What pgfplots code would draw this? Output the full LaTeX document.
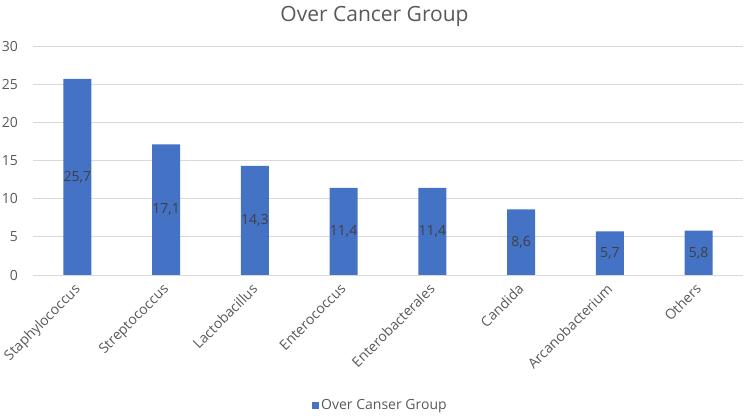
\documentclass[border=0pt]{standalone}
\usepackage{fontspec}
\setmainfont{Open Sans}
\usepackage{pgfplots}
\pgfplotsset{compat=1.18}
\definecolor{barblue}{HTML}{4472C4}
\definecolor{gridgray}{HTML}{D9D9D9}
\definecolor{ticktext}{HTML}{595959}
\definecolor{labeltext}{HTML}{404040}

\begin{document}
\begin{tikzpicture}
\useasboundingbox (0pt,0pt) rectangle (747pt,420pt);
\begin{axis}[
    at={(33pt,145pt)}, anchor=south west,
    scale only axis,
    width=710pt, height=229pt,
    ybar, bar width=28pt,
    xmin=-0.5, xmax=7.5,
    ymin=0, ymax=30,
    ytick={0,5,...,30},
    xtick=data,
    xticklabels={Staphylococcus,Streptococcus,Lactobacillus,Enterococcus,Enterobacterales,Candida,Arcanobacterium,Others},
    /pgf/number format/assume math mode=true,
    axis line style={draw=none},
    major tick length=0pt,
    ymajorgrids, grid style={gridgray, line width=0.8pt},
    tick label style={font=\fontsize{14}{16}\selectfont, text=ticktext},
    yticklabel style={anchor=east, inner sep=0pt, xshift=-15pt},
    xticklabel style={xshift=-4pt, yshift=-6pt, rotate=45, anchor=north east, inner sep=1pt},
    title={Over Cancer Group},
    title style={at={(0.481,1)}, anchor=center, yshift=24pt, font=\fontsize{21}{24}\selectfont, text=ticktext},
    nodes near coords,
    visualization depends on={rawy \as \rawy},
    every node near coord/.append style={/pgf/number format/fixed, /pgf/number format/precision=1, /pgf/number format/use comma, /pgf/number format/assume math mode=true, anchor=center, yshift={-3.8167pt*\rawy}, font=\fontsize{14}{16}\selectfont, text=labeltext},
    legend style={at={(0.489,-0.568)}, anchor=center, draw=none, fill=none, font=\fontsize{14}{16}\selectfont, text=ticktext, inner sep=0pt},
    legend image code/.code={\fill[barblue] (0pt,-3.5pt) rectangle (7.5pt,3.5pt);},
]
\addplot[fill=barblue, draw=none] coordinates {
    (0,25.7) (1,17.1) (2,14.3) (3,11.4) (4,11.4) (5,8.6) (6,5.7) (7,5.8)
};
\addlegendentry{Over Canser Group}
\end{axis}
\end{tikzpicture}
\end{document}
